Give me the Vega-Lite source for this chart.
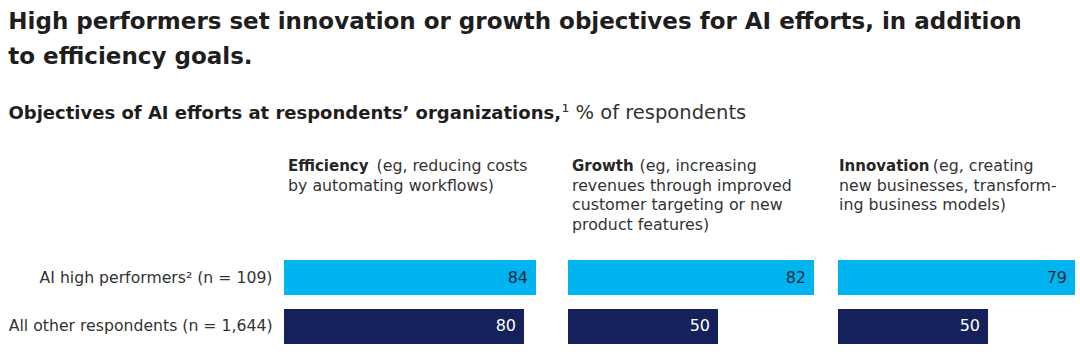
{
  "$schema": "https://vega.github.io/schema/vega-lite/v6.json",
  "padding": {"left": 8, "top": 10, "right": 0, "bottom": 14},
  "background": "#ffffff",
  "datasets": {
    "shares": [
      {"objective": "Efficiency", "group": "AI high performers² (n = 109)", "value": 84},
      {"objective": "Efficiency", "group": "All other respondents (n = 1,644)", "value": 80},
      {"objective": "Growth", "group": "AI high performers² (n = 109)", "value": 82},
      {"objective": "Growth", "group": "All other respondents (n = 1,644)", "value": 50},
      {"objective": "Innovation", "group": "AI high performers² (n = 109)", "value": 79},
      {"objective": "Innovation", "group": "All other respondents (n = 1,644)", "value": 50}
    ]
  },
  "title": {
    "text": ["High performers set innovation or growth objectives for AI efforts, in addition", "to efficiency goals."],
    "anchor": "start",
    "frame": "bounds",
    "font": "DejaVu Sans",
    "fontSize": 23,
    "fontWeight": "bold",
    "color": "#1e1e1e",
    "lineHeight": 35,
    "offset": 34
  },
  "spacing": 20,
  "bounds": "flush",
  "hconcat": [
    {
      "width": 264,
      "height": 84,
      "data": {"name": "shares"},
      "transform": [{"filter": "datum.objective === 'Efficiency'"}],
      "encoding": {
        "y": {
          "field": "group",
          "type": "nominal",
          "scale": {"domain": ["AI high performers² (n = 109)", "All other respondents (n = 1,644)"], "paddingInner": 0.2857, "paddingOuter": 0},
          "axis": {"title": null, "domain": false, "ticks": false, "labelFontSize": 15.7, "labelColor": "#333333", "labelPadding": 12, "labelLimit": 400, "labelFont": "DejaVu Sans"}
        }
      },
      "layer": [
        {
          "mark": {"type": "bar"},
          "encoding": {
            "x": {"field": "value", "type": "quantitative", "scale": {"domain": [0, 88], "nice": false}, "axis": null},
            "color": {"field": "group", "type": "nominal", "scale": {"domain": ["AI high performers² (n = 109)", "All other respondents (n = 1,644)"], "range": ["#00b4f0", "#14215a"]}, "legend": null}
          }
        },
        {
          "mark": {"type": "text", "align": "right", "dx": -8, "fontSize": 16, "font": "DejaVu Sans"},
          "encoding": {
            "x": {"field": "value", "type": "quantitative"},
            "text": {"field": "value", "type": "quantitative"},
            "color": {"condition": {"test": "datum.group === 'All other respondents (n = 1,644)'", "value": "#ffffff"}, "value": "#1c2a40"}
          }
        },
        {
          "data": {"values": [{"t": "Objectives of AI efforts at respondents’ organizations,"}]},
          "mark": {"type": "text", "align": "left", "baseline": "alphabetic", "dx": -275.5, "dy": -159, "fontSize": 18, "fontWeight": "bold", "color": "#1e1e1e", "font": "DejaVu Sans"},
          "encoding": {"x": {"datum": 0, "type": "quantitative"}, "y": {"datum": "AI high performers² (n = 109)", "type": "nominal"}, "text": {"field": "t"}}
        },
        {
          "data": {"values": [{"t": "¹ % of respondents"}]},
          "mark": {"type": "text", "align": "left", "baseline": "alphabetic", "dx": 277.5, "dy": -159, "fontSize": 19.5, "fontWeight": "normal", "color": "#333333", "font": "DejaVu Sans"},
          "encoding": {"x": {"datum": 0, "type": "quantitative"}, "y": {"datum": "AI high performers² (n = 109)", "type": "nominal"}, "text": {"field": "t"}}
        },
        {
          "data": {"values": [{"t": "Efficiency"}]},
          "mark": {"type": "text", "align": "left", "baseline": "alphabetic", "dx": 4, "dy": -106.5, "fontSize": 15, "fontWeight": "bold", "color": "#262626", "font": "DejaVu Sans"},
          "encoding": {"x": {"datum": 0, "type": "quantitative"}, "y": {"datum": "AI high performers² (n = 109)", "type": "nominal"}, "text": {"field": "t"}}
        },
        {
          "data": {"values": [{"t": "(eg, reducing costs"}]},
          "mark": {"type": "text", "align": "left", "baseline": "alphabetic", "dx": 92.5, "dy": -106.5, "fontSize": 15.8, "color": "#333333", "font": "DejaVu Sans"},
          "encoding": {"x": {"datum": 0, "type": "quantitative"}, "y": {"datum": "AI high performers² (n = 109)", "type": "nominal"}, "text": {"field": "t"}}
        },
        {
          "data": {"values": [{"t": "by automating workflows)"}]},
          "mark": {"type": "text", "align": "left", "baseline": "alphabetic", "dx": 4, "dy": -87, "fontSize": 15.8, "lineHeight": 19.5, "lineBreak": "\n", "color": "#333333", "font": "DejaVu Sans"},
          "encoding": {"x": {"datum": 0, "type": "quantitative"}, "y": {"datum": "AI high performers² (n = 109)", "type": "nominal"}, "text": {"field": "t"}}
        }
      ]
    },
    {
      "width": 250,
      "height": 84,
      "data": {"name": "shares"},
      "transform": [{"filter": "datum.objective === 'Growth'"}],
      "encoding": {
        "y": {
          "field": "group",
          "type": "nominal",
          "scale": {"domain": ["AI high performers² (n = 109)", "All other respondents (n = 1,644)"], "paddingInner": 0.2857, "paddingOuter": 0},
          "axis": null
        }
      },
      "layer": [
        {
          "mark": {"type": "bar"},
          "encoding": {
            "x": {"field": "value", "type": "quantitative", "scale": {"domain": [0, 83.333], "nice": false}, "axis": null},
            "color": {"field": "group", "type": "nominal", "scale": {"domain": ["AI high performers² (n = 109)", "All other respondents (n = 1,644)"], "range": ["#00b4f0", "#14215a"]}, "legend": null}
          }
        },
        {
          "mark": {"type": "text", "align": "right", "dx": -8, "fontSize": 16, "font": "DejaVu Sans"},
          "encoding": {
            "x": {"field": "value", "type": "quantitative"},
            "text": {"field": "value", "type": "quantitative"},
            "color": {"condition": {"test": "datum.group === 'All other respondents (n = 1,644)'", "value": "#ffffff"}, "value": "#1c2a40"}
          }
        },
        {
          "data": {"values": [{"t": "Growth"}]},
          "mark": {"type": "text", "align": "left", "baseline": "alphabetic", "dx": 4, "dy": -106.5, "fontSize": 15, "fontWeight": "bold", "color": "#262626", "font": "DejaVu Sans"},
          "encoding": {"x": {"datum": 0, "type": "quantitative"}, "y": {"datum": "AI high performers² (n = 109)", "type": "nominal"}, "text": {"field": "t"}}
        },
        {
          "data": {"values": [{"t": "(eg, increasing"}]},
          "mark": {"type": "text", "align": "left", "baseline": "alphabetic", "dx": 71.5, "dy": -106.5, "fontSize": 15.8, "color": "#333333", "font": "DejaVu Sans"},
          "encoding": {"x": {"datum": 0, "type": "quantitative"}, "y": {"datum": "AI high performers² (n = 109)", "type": "nominal"}, "text": {"field": "t"}}
        },
        {
          "data": {"values": [{"t": "revenues through improved\ncustomer targeting or new\nproduct features)"}]},
          "mark": {"type": "text", "align": "left", "baseline": "alphabetic", "dx": 4, "dy": -87, "fontSize": 15.8, "lineHeight": 19.5, "lineBreak": "\n", "color": "#333333", "font": "DejaVu Sans"},
          "encoding": {"x": {"datum": 0, "type": "quantitative"}, "y": {"datum": "AI high performers² (n = 109)", "type": "nominal"}, "text": {"field": "t"}}
        }
      ]
    },
    {
      "width": 240,
      "height": 84,
      "data": {"name": "shares"},
      "transform": [{"filter": "datum.objective === 'Innovation'"}],
      "encoding": {
        "y": {
          "field": "group",
          "type": "nominal",
          "scale": {"domain": ["AI high performers² (n = 109)", "All other respondents (n = 1,644)"], "paddingInner": 0.2857, "paddingOuter": 0},
          "axis": null
        }
      },
      "layer": [
        {
          "mark": {"type": "bar"},
          "encoding": {
            "x": {"field": "value", "type": "quantitative", "scale": {"domain": [0, 80], "nice": false}, "axis": null},
            "color": {"field": "group", "type": "nominal", "scale": {"domain": ["AI high performers² (n = 109)", "All other respondents (n = 1,644)"], "range": ["#00b4f0", "#14215a"]}, "legend": null}
          }
        },
        {
          "mark": {"type": "text", "align": "right", "dx": -8, "fontSize": 16, "font": "DejaVu Sans"},
          "encoding": {
            "x": {"field": "value", "type": "quantitative"},
            "text": {"field": "value", "type": "quantitative"},
            "color": {"condition": {"test": "datum.group === 'All other respondents (n = 1,644)'", "value": "#ffffff"}, "value": "#1c2a40"}
          }
        },
        {
          "data": {"values": [{"t": "Innovation"}]},
          "mark": {"type": "text", "align": "left", "baseline": "alphabetic", "dx": 1, "dy": -106.5, "fontSize": 15, "fontWeight": "bold", "color": "#262626", "font": "DejaVu Sans"},
          "encoding": {"x": {"datum": 0, "type": "quantitative"}, "y": {"datum": "AI high performers² (n = 109)", "type": "nominal"}, "text": {"field": "t"}}
        },
        {
          "data": {"values": [{"t": "(eg, creating"}]},
          "mark": {"type": "text", "align": "left", "baseline": "alphabetic", "dx": 94.8, "dy": -106.5, "fontSize": 15.8, "color": "#333333", "font": "DejaVu Sans"},
          "encoding": {"x": {"datum": 0, "type": "quantitative"}, "y": {"datum": "AI high performers² (n = 109)", "type": "nominal"}, "text": {"field": "t"}}
        },
        {
          "data": {"values": [{"t": "new businesses, transform-\ning business models)"}]},
          "mark": {"type": "text", "align": "left", "baseline": "alphabetic", "dx": 1, "dy": -87, "fontSize": 15.8, "lineHeight": 19.5, "lineBreak": "\n", "color": "#333333", "font": "DejaVu Sans"},
          "encoding": {"x": {"datum": 0, "type": "quantitative"}, "y": {"datum": "AI high performers² (n = 109)", "type": "nominal"}, "text": {"field": "t"}}
        }
      ]
    }
  ],
  "config": {"view": {"stroke": null}, "font": "DejaVu Sans"}
}
